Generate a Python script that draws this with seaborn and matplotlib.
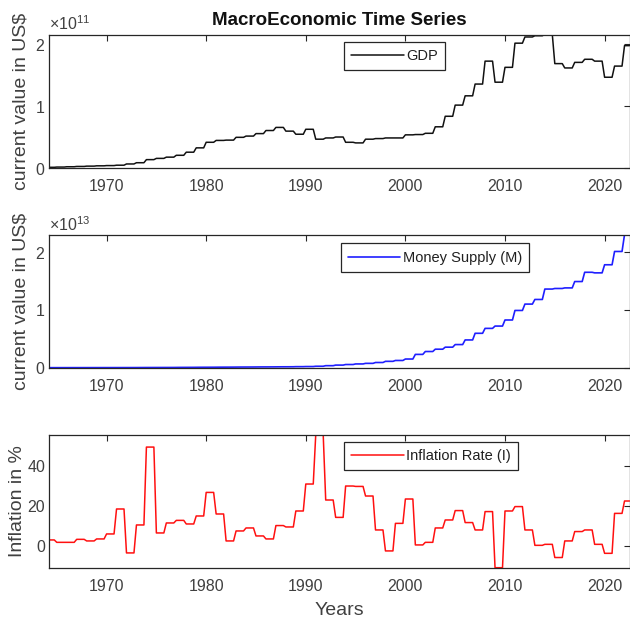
import numpy as np
import pandas as pd
import matplotlib
matplotlib.use("Agg")
import matplotlib.pyplot as plt
import seaborn as sns
from matplotlib.ticker import ScalarFormatter

# Annual observations, 1964-2022
years = list(range(1964, 2023))

gdp_e11 = [0.016, 0.02, 0.025, 0.03, 0.035, 0.04, 0.044, 0.05, 0.07, 0.09,
           0.14, 0.16, 0.18, 0.21, 0.26, 0.33, 0.42, 0.45, 0.455, 0.50,
           0.52, 0.56, 0.61, 0.66, 0.60, 0.55, 0.63, 0.47, 0.49, 0.505,
           0.42, 0.41, 0.47, 0.48, 0.49, 0.49, 0.54, 0.545, 0.565, 0.67,
           0.84, 1.02, 1.17, 1.36, 1.73, 1.39, 1.63, 2.02, 2.12, 2.14,
           2.16, 1.69, 1.62, 1.71, 1.76, 1.73, 1.47, 1.65, 1.98]

money_e13 = [0.0005, 0.0006, 0.0007, 0.0008, 0.001, 0.0011, 0.0013, 0.0016, 0.002, 0.0025,
             0.003, 0.0035, 0.004, 0.005, 0.006, 0.007, 0.008, 0.009, 0.010, 0.011,
             0.012, 0.013, 0.014, 0.015, 0.016, 0.018, 0.02, 0.025, 0.035, 0.045,
             0.055, 0.065, 0.075, 0.09, 0.11, 0.125, 0.15, 0.23, 0.28, 0.32,
             0.355, 0.40, 0.48, 0.595, 0.68, 0.72, 0.825, 0.99, 1.10, 1.18,
             1.36, 1.37, 1.38, 1.49, 1.65, 1.64, 1.78, 2.01, 2.30]

inflation_pct = [3.0, 1.8, 1.8, 3.3, 2.5, 3.5, 6.0, 18.5, -3.5, 10.5,
                 49.5, 6.5, 11.5, 12.8, 11.0, 15.0, 26.8, 16.0, 2.5, 7.5,
                 9.0, 5.0, 3.5, 10.2, 9.5, 17.5, 31.0, 55.7, 23.0, 14.3,
                 30.0, 29.8, 25.0, 8.0, -2.5, 11.3, 23.5, 0.5, 1.8, 9.0,
                 13.0, 17.7, 11.7, 8.0, 17.2, -10.9, 17.5, 19.7, 8.0, 0.3,
                 0.8, -5.8, 2.5, 7.2, 8.0, 0.8, -3.7, 16.3, 22.5]

xticks = [1970, 1980, 1990, 2000, 2010, 2020]

# Each annual figure is held over its four quarters of the year
per_year = 4
t = (np.array(years)[:, None] + np.arange(per_year)[None, :] / per_year).ravel()[1:-1]


def quarterly(vals, scale=1.0):
    return np.repeat(np.asarray(vals, dtype=float) * scale, per_year)[1:-1]


df = pd.DataFrame({
    "t": t,
    "gdp": quarterly(gdp_e11, 1e11),
    "money": quarterly(money_e13, 1e13),
    "infl": quarterly(inflation_pct),
})

sns.set_theme(style="white")
plt.rcParams["font.family"] = ["Liberation Sans", "DejaVu Sans"]
plt.rcParams["mathtext.fontset"] = "custom"
plt.rcParams["mathtext.rm"] = "Liberation Sans"
plt.rcParams["mathtext.it"] = "Liberation Sans:italic"

axis_grey = "#262626"
text_grey = "#404040"
W, H = 630, 619
fig = plt.figure(figsize=(W / 100, H / 100), dpi=100)


def px_axes(left, top, right, bottom):
    return fig.add_axes([left / W, 1 - bottom / H, (right - left) / W, (bottom - top) / H])


ax1 = px_axes(49.3, 34.5, 629.5, 168.3)
ax2 = px_axes(49.3, 234.7, 629.5, 367.7)
ax3 = px_axes(49.3, 434.7, 629.5, 567.7)

sns.lineplot(data=df, x="t", y="gdp", ax=ax1, color="#111111", lw=1.1,
             label="GDP", estimator=None, sort=False)
sns.lineplot(data=df, x="t", y="money", ax=ax2, color="#1f1fff", lw=1.2,
             label="Money Supply (M)", estimator=None, sort=False)
sns.lineplot(data=df, x="t", y="infl", ax=ax3, color="#ff1010", lw=1.1,
             label="Inflation Rate (I)", estimator=None, sort=False)

setups = [
    (ax1, "gdp", [0, 1e11, 2e11], "current value in US$", (0.508, 0.946), -0.034),
    (ax2, "money", [0, 1e13, 2e13], "current value in US$", (0.502, 0.935), -0.034),
    (ax3, "infl", [0, 20, 40], "Inflation in %", (0.508, 0.947), -0.041),
]

for ax, col, yt, ylab, anchor, label_x in setups:
    ax.set_xlim(df["t"].min(), df["t"].max())
    lo = min(df[col].min(), 0) if col != "infl" else df[col].min()
    ax.set_ylim(lo, df[col].max())
    ax.set_xticks(xticks)
    ax.set_yticks(yt)
    if col != "infl":
        fmt = ScalarFormatter(useMathText=True)
        ax.yaxis.set_major_formatter(fmt)
        ax.yaxis.get_offset_text().set_fontsize(11.5)
        ax.yaxis.get_offset_text().set_color(text_grey)
    ax.tick_params(direction="in", length=4, width=0.8, colors=axis_grey,
                   labelcolor=text_grey, labelsize=11.5, top=True, right=True)
    ax.tick_params(axis="x", pad=8)
    ax.tick_params(axis="y", pad=3)
    for s in ax.spines.values():
        s.set_color(axis_grey)
        s.set_linewidth(0.9)
    ax.set_xlabel("")
    ax.set_ylabel(ylab, fontsize=14, color=text_grey)
    ax.yaxis.set_label_coords(label_x, 0.5)
    leg = ax.legend(loc="upper left", bbox_to_anchor=anchor, borderaxespad=0,
                    fontsize=10.5, frameon=True, fancybox=False, framealpha=1,
                    edgecolor=axis_grey, handlelength=3.6, handletextpad=0.15,
                    borderpad=0.5)
    leg.get_frame().set_linewidth(0.9)
    for txt in leg.get_texts():
        txt.set_color("#202020")

ax1.set_title("MacroEconomic Time Series", fontsize=13.5, fontweight="bold",
              color="#111111", pad=7)
ax3.set_xlabel("Years", fontsize=14, color=text_grey, labelpad=6)

fig.savefig("out.png", dpi=100)
